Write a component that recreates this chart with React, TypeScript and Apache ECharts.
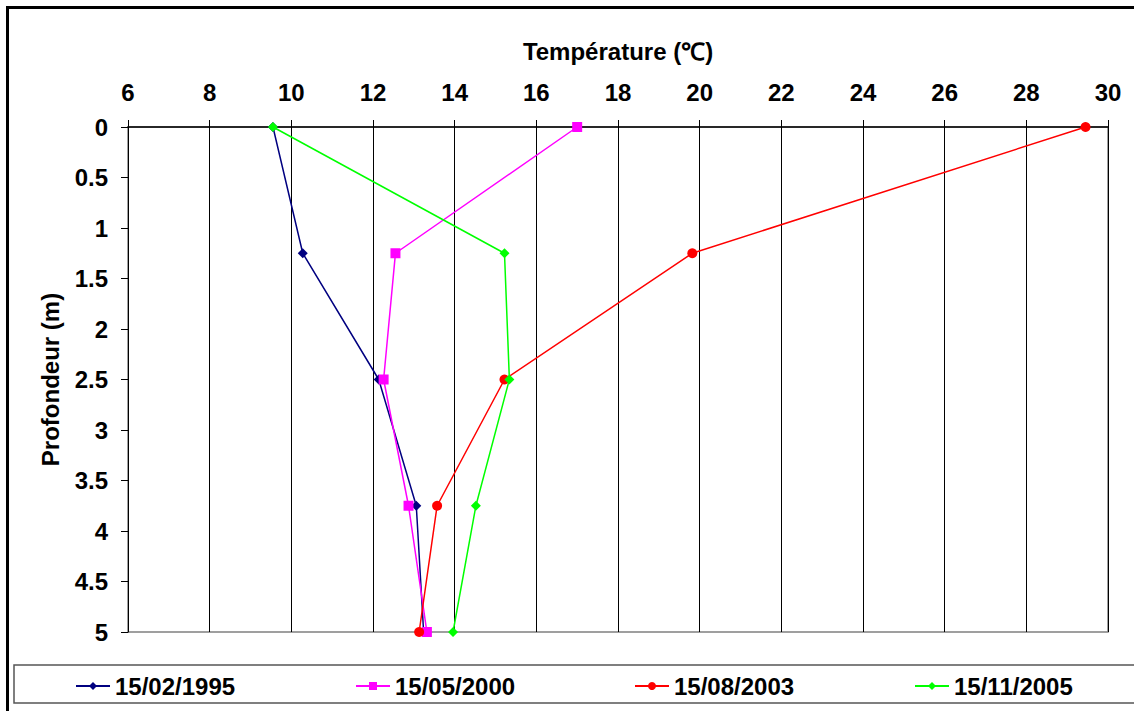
import React, { useEffect, useRef } from "react";
import * as echarts from "echarts";

const depths = [0, 1.25, 2.5, 3.75, 5];
const seriesNames = ["15/02/1995", "15/05/2000", "15/08/2003", "15/11/2005"];
const temp1995 = [9.55, 10.28, 12.14, 13.06, 13.24];
const temp2000 = [17.0, 12.55, 12.26, 12.87, 13.32];
const temp2003 = [29.45, 19.82, 15.22, 13.57, 13.13];
const temp2005 = [9.55, 15.22, 15.34, 14.52, 13.96];
const xTitle = "Température (℃)";
const yTitle = "Profondeur (m)";

const FONT = "'Liberation Sans', Arial, sans-serif";

export default function App() {
  const ref = useRef<HTMLDivElement>(null);
  useEffect(() => {
    document.body.style.margin = "0";
    const chart = echarts.init(ref.current!, null, { renderer: "svg" });
    const colors = ["#000080", "#FF00FF", "#FF0000", "#00FF00"];
    const symbols = ["diamond", "rect", "circle", "diamond"];
    const sizes = [10, 10, 10, 10];
    const allTemps = [temp1995, temp2000, temp2003, temp2005];
    const series = seriesNames.map((name, i) => ({
      name,
      type: "line",
      data: allTemps[i].map((t, j) => [t, depths[j]]),
      symbol: symbols[i],
      symbolSize: sizes[i],
      showAllSymbol: true,
      lineStyle: { color: colors[i], width: 1.5 },
      itemStyle: { color: colors[i] },
      z: 3 + i,
    }));
    const legendLefts = [75, 355, 634, 914];
    const legends = seriesNames.map((name, i) => ({
      data: [name],
      left: legendLefts[i],
      top: 674,
      padding: 0,
      itemWidth: 34,
      itemHeight: 10,
      itemGap: 6,
      textStyle: { fontFamily: FONT, fontWeight: "bold", fontSize: 24, color: "#000" },
    }));
    chart.setOption({
      animation: false,
      backgroundColor: "#fff",
      grid: {
        left: 128,
        top: 127,
        right: 26,
        bottom: 79,
        show: true,
        borderColor: "#808080",
        borderWidth: 1.5,
      },
      legend: legends,
      xAxis: {
        type: "value",
        position: "top",
        min: 6,
        max: 30,
        interval: 2,
        name: xTitle,
        nameLocation: "middle",
        nameGap: 64,
        nameTextStyle: { fontFamily: FONT, fontWeight: "bold", fontSize: 24, color: "#000" },
        axisLine: { show: true, lineStyle: { color: "#000", width: 1.5 } },
        axisTick: { show: true, inside: false, length: 7, lineStyle: { color: "#000" } },
        axisLabel: { margin: 23, fontFamily: FONT, fontWeight: "bold", fontSize: 24, color: "#000" },
        splitLine: { show: true, lineStyle: { color: "#000", width: 1 } },
      },
      yAxis: {
        type: "value",
        inverse: true,
        min: 0,
        max: 5,
        interval: 0.5,
        name: yTitle,
        nameLocation: "middle",
        nameGap: 66,
        nameRotate: 90,
        nameTextStyle: { fontFamily: FONT, fontWeight: "bold", fontSize: 24, color: "#000" },
        axisLine: { show: true, lineStyle: { color: "#000", width: 1 } },
        axisTick: { show: true, inside: false, length: 7, lineStyle: { color: "#000" } },
        axisLabel: { margin: 20, fontFamily: FONT, fontWeight: "bold", fontSize: 24, color: "#000" },
        splitLine: { show: false },
      },
      graphic: [
        {
          type: "rect",
          shape: { x: 14, y: 665, width: 1140, height: 38 },
          style: { fill: "none", stroke: "#555", lineWidth: 1.5 },
          silent: true,
          z: -1,
        },
        {
          type: "rect",
          shape: { x: 7.5, y: 7.5, width: 1140, height: 720 },
          style: { fill: "none", stroke: "#000", lineWidth: 3 },
          silent: true,
        },
      ],
      series,
    });
    return () => chart.dispose();
  }, []);
  return (
    <div
      ref={ref}
      style={{ position: "fixed", left: 0, top: 0, width: 1134, height: 711, background: "#fff" }}
    />
  );
}
